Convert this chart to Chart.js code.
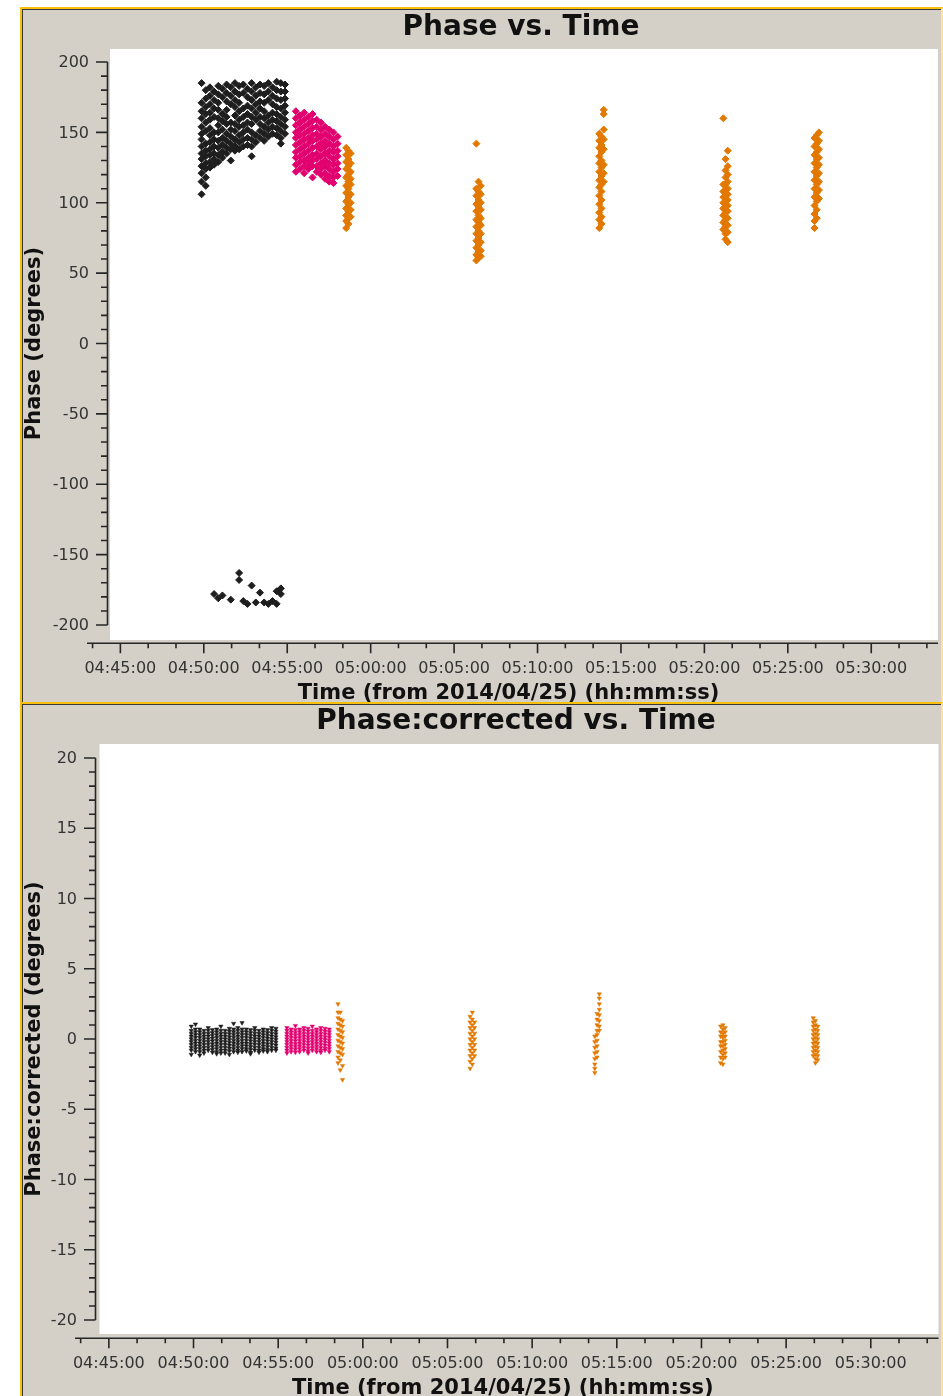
<!DOCTYPE html>
<html>
<head>
<meta charset="utf-8">
<script src="https://cdn.jsdelivr.net/npm/chart.js@4.4.1/dist/chart.umd.min.js"></script>
<style>
  html, body { margin: 0; padding: 0; background: #fff; }
  body { width: 943px; height: 1396px; position: relative; overflow: hidden; }
  .panel {
    position: absolute; left: 20px; width: 923px; box-sizing: border-box;
    background: #d4d0c8;
    border-left: 2px solid #f8bf0d; border-top: 2px solid #f8bf0d; border-right: 2px solid #fde48e;
    box-shadow: inset 1px 1px 0 #3a3a3a;
  }
  #panel1 { top: 7px; height: 695px; }
  #panel2 { top: 702px; height: 700px; }
  canvas { position: absolute; left: 0; }
  #phaseChart { top: 0; }
  #correctedChart { top: 702px; }
</style>
</head>
<body>
<div class="panel" id="panel1"></div>
<div class="panel" id="panel2"></div>
<canvas id="phaseChart" width="943" height="702"></canvas>
<canvas id="correctedChart" width="943" height="694"></canvas>
<script>
// ---- data ----
const xRange = ['04:43:00', '05:34:00'];
const xTickLabels = ['04:45:00', '04:50:00', '04:55:00', '05:00:00', '05:05:00',
                     '05:10:00', '05:15:00', '05:20:00', '05:25:00', '05:30:00'];
const phaseTicks = [200, 150, 100, 50, 0, -50, -100, -150, -200];
const correctedTicks = [20, 15, 10, 5, 0, -5, -10, -15, -20];

// scan 1 (black)
const scan1Times = ['04:49:52', '04:50:07', '04:50:22', '04:50:37', '04:50:52', '04:51:07', '04:51:22',
                    '04:51:37', '04:51:52', '04:52:07', '04:52:22', '04:52:37', '04:52:52', '04:53:07',
                    '04:53:22', '04:53:37', '04:53:52', '04:54:07', '04:54:22', '04:54:37', '04:54:52'];
const scan1Phase = [
  [185, 171, 165, 160, 154, 149, 145, 140, 135, 131, 126, 121, 115, 106],
  [180, 174, 168, 163, 157, 151, 142, 137, 133, 128, 124, 118, 112],
  [182, 176, 170, 164, 159, 153, 148, 143, 138, 134, 129, 125],
  [179, 173, 167, 161, 150, 145, 140, 135, 131, 127, -178],
  [183, 177, 171, 166, 160, 155, 150, 144, 139, 134, 129, -181],
  [181, 175, 163, 158, 152, 146, 141, 136, 132, -179],
  [184, 178, 172, 166, 161, 156, 149, 144, 139, 135],
  [182, 176, 170, 157, 152, 147, 142, 138, 130, -182],
  [185, 179, 173, 168, 162, 156, 151, 145, 140, 137],
  [183, 177, 171, 165, 159, 154, 148, 143, 138, -163, -168],
  [184, 178, 167, 161, 155, 150, 145, 140, -183],
  [181, 175, 169, 163, 157, 152, 146, 141, -185],
  [185, 179, 173, 167, 161, 156, 150, 145, 140, 133, -172],
  [182, 176, 170, 164, 159, 148, 143, -184],
  [184, 178, 172, 167, 161, 156, 151, 146, -177],
  [183, 177, 171, 165, 160, 154, 149, 144, -184],
  [185, 179, 173, 162, 157, 152, 147, -185],
  [182, 176, 170, 164, 159, 154, 149, -183],
  [186, 180, 174, 168, 163, 158, 153, 148, -185, -176],
  [185, 179, 173, 167, 161, 156, 151, 146, 142, -174, -178],
  [184, 179, 174, 169, 164, 159, 154, 149]
];
const scan1Corrected = [
  [0.9, 0.6, 0.4, 0.2, 0.0, -0.2, -0.4, -0.6, -0.8, -1.1],
  [1.05, 0.7, 0.5, 0.3, 0.1, -0.1, -0.3, -0.5, -0.7, -0.9],
  [0.7, 0.5, 0.3, 0.1, -0.1, -0.3, -0.5, -0.7, -0.9, -1.15],
  [0.6, 0.4, 0.2, 0.0, -0.2, -0.4, -0.6, -0.8, -1.0],
  [0.8, 0.6, 0.4, 0.2, 0.0, -0.2, -0.4, -0.6, -0.8],
  [0.65, 0.45, 0.25, 0.05, -0.15, -0.35, -0.55, -0.75, -0.95],
  [0.7, 0.5, 0.3, 0.1, -0.1, -0.3, -0.5, -0.7, -0.9, -1.05],
  [0.9, 0.6, 0.4, 0.2, 0.0, -0.2, -0.4, -0.6, -0.8, -1.0],
  [0.6, 0.4, 0.2, 0.0, -0.2, -0.4, -0.6, -0.8, -1.0],
  [0.75, 0.55, 0.35, 0.15, -0.05, -0.25, -0.45, -0.65, -0.85, -1.1],
  [1.1, 0.7, 0.5, 0.3, 0.1, -0.1, -0.3, -0.5, -0.7, -0.9],
  [0.8, 0.6, 0.4, 0.2, 0.0, -0.2, -0.4, -0.6, -0.8, -0.95],
  [1.15, 0.7, 0.5, 0.3, 0.1, -0.1, -0.3, -0.5, -0.7, -0.9],
  [0.7, 0.5, 0.3, 0.1, -0.1, -0.3, -0.5, -0.7, -0.85],
  [0.65, 0.45, 0.25, 0.05, -0.15, -0.35, -0.55, -0.75, -0.95, -1.05],
  [0.8, 0.6, 0.4, 0.2, 0.0, -0.2, -0.4, -0.6, -0.8],
  [0.6, 0.4, 0.2, 0.0, -0.2, -0.4, -0.6, -0.8, -0.95],
  [0.7, 0.5, 0.3, 0.1, -0.1, -0.3, -0.5, -0.7, -0.85],
  [0.65, 0.45, 0.25, 0.05, -0.15, -0.35, -0.55, -0.75, -0.9],
  [0.8, 0.6, 0.4, 0.2, 0.0, -0.2, -0.4, -0.6, -0.8],
  [0.75, 0.55, 0.35, 0.15, -0.05, -0.25, -0.45, -0.65, -0.8]
];

// scan 2 (magenta)
const scan2Times = ['04:55:31', '04:55:46', '04:56:01', '04:56:16', '04:56:31', '04:56:46',
                    '04:57:01', '04:57:16', '04:57:31', '04:57:46', '04:58:01'];
const scan2Phase = [
  [165, 160, 155, 150, 146, 141, 136, 132, 127, 122],
  [162, 157, 152, 148, 143, 138, 133, 129, 124],
  [164, 159, 154, 149, 145, 140, 135, 130, 126, 121],
  [161, 156, 151, 146, 142, 137, 132, 128, 124],
  [163, 158, 153, 148, 144, 139, 134, 130, 126, 118],
  [159, 154, 149, 145, 140, 135, 131, 126, 122],
  [157, 152, 147, 142, 138, 133, 128, 124, 120],
  [154, 149, 144, 140, 135, 130, 126, 121, 117],
  [152, 147, 142, 137, 133, 128, 124, 119, 115],
  [150, 145, 140, 136, 131, 127, 122, 118, 114],
  [147, 142, 137, 133, 128, 124, 119]
];
const scan2Corrected = [
  [0.8, 0.6, 0.4, 0.2, 0.0, -0.2, -0.4, -0.6, -0.8, -1.0],
  [0.7, 0.5, 0.3, 0.1, -0.1, -0.3, -0.5, -0.7, -0.9],
  [0.95, 0.65, 0.45, 0.25, 0.05, -0.15, -0.35, -0.55, -0.75, -0.95],
  [0.7, 0.5, 0.3, 0.1, -0.1, -0.3, -0.5, -0.7, -0.9],
  [0.8, 0.6, 0.4, 0.2, 0.0, -0.2, -0.4, -0.6, -0.8],
  [0.75, 0.55, 0.35, 0.15, -0.05, -0.25, -0.45, -0.65, -0.85, -1.0],
  [0.9, 0.6, 0.4, 0.2, 0.0, -0.2, -0.4, -0.6, -0.8],
  [0.7, 0.5, 0.3, 0.1, -0.1, -0.3, -0.5, -0.7, -0.9],
  [0.8, 0.6, 0.4, 0.2, 0.0, -0.2, -0.4, -0.6, -0.8, -0.95],
  [0.75, 0.55, 0.35, 0.15, -0.05, -0.25, -0.45, -0.65, -0.8],
  [0.7, 0.5, 0.3, 0.1, -0.1, -0.3, -0.5, -0.7, -0.9]
];

// calibrator scans (orange)
const calTimes = ['04:58:32', '04:58:40', '04:58:48', '05:06:20', '05:06:28', '05:06:36',
                  '05:13:42', '05:13:50', '05:13:58', '05:21:08', '05:21:16', '05:21:24',
                  '05:26:36', '05:26:44', '05:26:52'];
const calPhase = [
  [139, 134, 129, 124, 118, 112, 107, 101, 96, 91, 87, 82],
  [137, 131, 126, 120, 115, 110, 104, 99, 94, 89, 85],
  [135, 128, 122, 117, 113, 106, 100, 95, 90],
  [142, 110, 105, 99, 94, 88, 83, 78, 73, 68, 63, 59],
  [115, 108, 102, 97, 91, 86, 80, 75, 70, 65, 61],
  [112, 106, 100, 95, 89, 84, 78, 72, 66, 62],
  [149, 144, 139, 133, 128, 122, 116, 111, 105, 99, 93, 88, 82],
  [147, 141, 136, 130, 125, 119, 113, 108, 102, 96, 90, 85],
  [166, 163, 152, 145, 138, 127, 121, 115],
  [160, 113, 108, 104, 100, 96, 91, 86, 81],
  [131, 123, 118, 113, 109, 105, 101, 97, 93, 88, 83, 78, 74],
  [137, 126, 120, 115, 110, 106, 102, 98, 94, 89, 84, 79, 72],
  [146, 140, 134, 128, 122, 116, 110, 104, 98, 92, 87, 82],
  [148, 142, 136, 131, 125, 119, 113, 107, 101, 95, 89],
  [150, 144, 138, 132, 127, 121, 115, 109, 103]
];
const calCorrected = [
  [2.5, 1.9, 1.5, 1.1, 0.7, 0.3, -0.1, -0.5, -0.9, -1.3, -1.7],
  [1.9, 1.4, 1.0, 0.6, 0.2, -0.2, -0.6, -1.0, -1.5, -2.2],
  [1.3, 0.9, 0.5, 0.1, -0.3, -0.7, -1.1, -1.9, -2.9],
  [1.6, 1.2, 0.8, 0.4, 0.0, -0.4, -0.8, -1.2, -1.6, -2.1],
  [1.9, 1.4, 1.0, 0.6, 0.2, -0.2, -0.6, -1.0, -1.4, -1.8],
  [1.2, 0.8, 0.4, 0.0, -0.4, -0.8, -1.2],
  [0.2, -0.2, -0.6, -1.0, -1.4, -1.8, -2.1, -2.4],
  [1.8, 1.4, 1.0, 0.6, 0.3, -0.1, -0.5, -0.9, -1.3],
  [3.2, 2.9, 2.5, 2.1, 1.7, 1.3, 0.9, 0.6],
  [0.9, 0.5, 0.2, -0.2, -0.5, -0.9, -1.3, -1.7],
  [1.0, 0.7, 0.4, 0.1, -0.2, -0.5, -0.8, -1.1, -1.4, -1.8],
  [0.8, 0.5, 0.2, -0.1, -0.4, -0.7, -1.0, -1.3],
  [1.5, 1.2, 0.9, 0.6, 0.3, 0.0, -0.3, -0.6, -0.9, -1.2],
  [1.3, 1.0, 0.7, 0.4, 0.1, -0.2, -0.5, -0.8, -1.1, -1.4, -1.7],
  [0.9, 0.6, 0.3, 0.0, -0.3, -0.6, -0.9, -1.2, -1.5]
];

// ---- helpers ----
function toSec(s) {
  const p = s.split(':').map(Number);
  return p[0] * 3600 + p[1] * 60 + p[2];
}

function toPoints(times, values) {
  return times.flatMap((t, i) => values[i].map(v => ({ x: toSec(t), y: v })));
}

// draws the white canvas, the outside axes and the titles the way plotms does
const plotFrame = {
  id: 'plotFrame',
  beforeDatasetsDraw(chart, args, o) {
    const { ctx, chartArea: a } = chart;
    ctx.save();
    ctx.fillStyle = '#ffffff';
    ctx.fillRect(a.left + o.inset.left, a.top - o.inset.top,
                 a.right - a.left - o.inset.left, a.bottom - a.top + o.inset.top + o.inset.bottom);
    ctx.restore();
  },
  afterDraw(chart, args, o) {
    const { ctx, chartArea: a, scales: { x, y } } = chart;
    ctx.save();
    ctx.strokeStyle = '#262626';
    ctx.lineWidth = 1.6;

    // y axis
    const ax = a.left + o.yAxisOffset;
    const yMax = Math.max(...o.yTicks), yMin = Math.min(...o.yTicks);
    ctx.beginPath();
    ctx.moveTo(ax, y.getPixelForValue(yMax));
    ctx.lineTo(ax, y.getPixelForValue(yMin));
    for (let v = yMin; v <= yMax + 1e-9; v += o.yMinor) {
      const py = y.getPixelForValue(v);
      const len = o.yTicks.includes(Math.round(v)) ? 11.5 : 6.5;
      ctx.moveTo(ax, py);
      ctx.lineTo(ax - len, py);
    }
    ctx.stroke();

    ctx.fillStyle = '#333';
    ctx.font = '16px "DejaVu Sans"';
    ctx.textAlign = 'right';
    ctx.textBaseline = 'middle';
    o.yTicks.forEach(v => ctx.fillText(String(v), ax - 18.5, y.getPixelForValue(v) + 1));

    // x axis
    const ay = a.bottom + 18.3;
    ctx.beginPath();
    ctx.moveTo(a.left, ay);
    ctx.lineTo(a.right, ay);
    const majors = xTickLabels.map(toSec);
    for (let t = Math.ceil(x.min / 100) * 100; t <= x.max; t += 100) {
      const px = x.getPixelForValue(t);
      const len = majors.includes(t) ? 10 : 5;
      ctx.moveTo(px, ay);
      ctx.lineTo(px, ay + len);
    }
    ctx.stroke();

    ctx.textAlign = 'center';
    xTickLabels.forEach(l => ctx.fillText(l, x.getPixelForValue(toSec(l)), ay + 25.5));

    // titles
    ctx.fillStyle = '#111';
    ctx.font = 'bold 21px "DejaVu Sans"';
    ctx.fillText('Time (from 2014/04/25) (hh:mm:ss)', (a.left + a.right) / 2 - 4, ay + 50);

    ctx.save();
    ctx.translate(35, (a.top + a.bottom) / 2);
    ctx.rotate(-Math.PI / 2);
    ctx.fillText(o.yTitle, 0, 0);
    ctx.restore();

    ctx.font = 'bold 28px "DejaVu Sans"';
    ctx.fillText(o.title, (a.left + o.inset.left + a.right) / 2 - 3, o.titleY);
    ctx.restore();
  }
};

function makeChart(id, o) {
  return new Chart(document.getElementById(id), {
    type: 'scatter',
    data: {
      datasets: [
        { data: toPoints(scan1Times, o.scan1), backgroundColor: '#1e1e1e', borderColor: '#1e1e1e' },
        { data: toPoints(scan2Times, o.scan2), backgroundColor: '#e2006f', borderColor: '#e2006f' },
        { data: toPoints(calTimes, o.cal), backgroundColor: '#e27800', borderColor: '#e27800' }
      ]
    },
    options: {
      responsive: false,
      animation: false,
      events: [],
      layout: { padding: o.padding },
      elements: { point: o.point },
      scales: {
        x: { type: 'linear', display: false, min: toSec(xRange[0]), max: toSec(xRange[1]) },
        y: { display: false, min: o.yMin, max: o.yMax }
      },
      plugins: {
        legend: { display: false },
        tooltip: { enabled: false },
        plotFrame: o.frame
      }
    },
    plugins: [plotFrame]
  });
}

makeChart('phaseChart', {
  scan1: scan1Phase, scan2: scan2Phase, cal: calPhase,
  yMin: -200, yMax: 200,
  padding: { left: 87, right: 2, top: 62, bottom: 77 },
  point: { pointStyle: 'rectRot', radius: 3.5, borderWidth: 1 },
  frame: {
    title: 'Phase vs. Time', titleY: 28, yTitle: 'Phase (degrees)',
    yTicks: phaseTicks, yMinor: 10, yAxisOffset: 20.5,
    inset: { left: 23, top: 13, bottom: 15 }
  }
});

makeChart('correctedChart', {
  scan1: scan1Corrected, scan2: scan2Corrected, cal: calCorrected,
  yMin: -20, yMax: 20,
  padding: { left: 75, right: 2, top: 56, bottom: 76 },
  point: { pointStyle: 'triangle', rotation: 180, radius: 2.5, borderWidth: 0.5 },
  frame: {
    title: 'Phase:corrected vs. Time', titleY: 20, yTitle: 'Phase:corrected (degrees)',
    yTicks: correctedTicks, yMinor: 1, yAxisOffset: 20.5,
    inset: { left: 24.5, top: 14, bottom: 14 }
  }
});
</script>
</body>
</html>
